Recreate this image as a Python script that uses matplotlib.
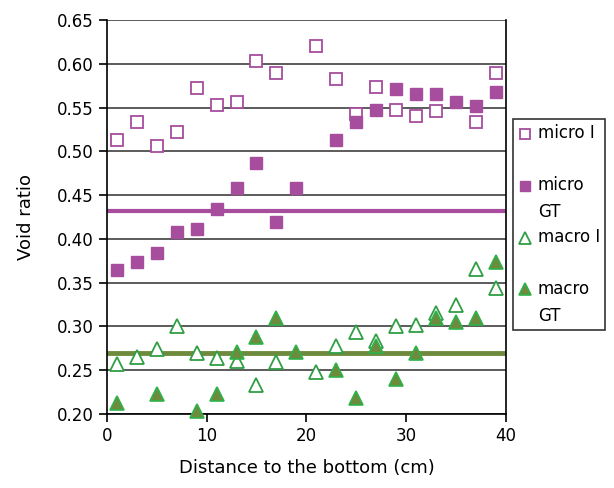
import numpy as np
import matplotlib
matplotlib.use('Agg')
import matplotlib.pyplot as plt

# data
x_micro_i = [1, 3, 5, 7, 9, 11, 13, 15, 17, 21, 23, 25, 27, 29, 31, 33, 37, 39]
micro_i = [0.513, 0.533, 0.506, 0.522, 0.572, 0.553, 0.556, 0.603, 0.589, 0.620,
           0.583, 0.543, 0.573, 0.547, 0.540, 0.546, 0.534, 0.590]

x_micro_gt = [1, 3, 5, 7, 9, 11, 13, 15, 17, 19, 23, 25, 27, 29, 31, 33, 35, 37, 39]
micro_gt = [0.364, 0.373, 0.384, 0.408, 0.411, 0.434, 0.458, 0.487, 0.419, 0.458,
            0.513, 0.534, 0.547, 0.571, 0.565, 0.565, 0.556, 0.552, 0.568]

x_macro_i = [1, 3, 5, 7, 9, 11, 13, 15, 17, 21, 23, 25, 27, 29, 31, 33, 35, 37, 39]
macro_i = [0.257, 0.265, 0.274, 0.300, 0.269, 0.264, 0.260, 0.233, 0.259, 0.248,
           0.278, 0.293, 0.283, 0.300, 0.302, 0.315, 0.324, 0.366, 0.344]

x_macro_gt = [1, 5, 9, 11, 13, 15, 17, 19, 23, 25, 27, 29, 31, 33, 35, 37, 39]
macro_gt = [0.212, 0.223, 0.203, 0.223, 0.271, 0.288, 0.310, 0.271, 0.250, 0.218,
            0.278, 0.240, 0.269, 0.309, 0.305, 0.309, 0.374]

micro_mean = 0.432
macro_mean = 0.270

yticks = [0.20, 0.25, 0.30, 0.35, 0.40, 0.45, 0.50, 0.55, 0.60, 0.65]
xticks = [0, 10, 20, 30, 40]
# every legend entry takes two lines, like the original
legend_labels = ['micro I\n', 'micro\nGT', 'macro I\n', 'macro\nGT']

purple = '#a64d9e'
olive = '#6e8b3d'
green = '#2f9e44'

fig = plt.figure(figsize=(6.14, 4.88), dpi=100)
ax = fig.add_axes([0.174, 0.152, 0.650, 0.807])

for y in yticks:
    ax.axhline(y, color='#404040', lw=1.2, zorder=1)

ax.axhline(micro_mean, color=purple, lw=3, zorder=2)
ax.axhline(macro_mean, color=olive, lw=3.5, zorder=2)

ax.plot(x_micro_i, micro_i, 's', ms=8.5, mfc='white', mec=purple, mew=1.3,
        label=legend_labels[0], zorder=3, clip_on=False)
ax.plot(x_micro_gt, micro_gt, 's', ms=8.5, mfc=purple, mec=purple,
        label=legend_labels[1], zorder=3, clip_on=False)
ax.plot(x_macro_i, macro_i, '^', ms=9.5, mfc='white', mec=green, mew=1.3,
        label=legend_labels[2], zorder=3, clip_on=False)
ax.plot(x_macro_gt, macro_gt, '^', ms=9.5, mfc=olive, mec='#2db34a', mew=1.2,
        label=legend_labels[3], zorder=3, clip_on=False)

ax.set_xlim(0, 40)
ax.set_ylim(0.20, 0.65)
ax.set_xticks(xticks)
ax.set_yticks(yticks)
ax.set_yticklabels(['%.2f' % v for v in yticks])
ax.tick_params(labelsize=12, direction='out', length=6, width=1.2, colors='black')
for s in ['left', 'bottom', 'right', 'top']:
    ax.spines[s].set_linewidth(1.2)
ax.spines['top'].set_visible(False)

ax.set_xlabel('Distance to the bottom (cm)', fontsize=13, labelpad=10)
ax.set_ylabel('Void ratio', fontsize=13, labelpad=16)

leg = fig.legend(loc='upper left', bbox_to_anchor=(0.830, 0.762), fontsize=12,
                 frameon=True, fancybox=False, edgecolor='black',
                 labelspacing=0.42, handlelength=0.9, handletextpad=0.3,
                 borderpad=0.3, borderaxespad=0.2, markerscale=0.9)
leg.get_frame().set_linewidth(1.2)
for t in leg.get_texts():
    t.set_linespacing(1.63)
# lift the markers to the first text line
for h in leg.legend_handles:
    h.set_ydata(np.asarray(h.get_ydata()) + 10.1)

fig.savefig('out.png', dpi=100)
